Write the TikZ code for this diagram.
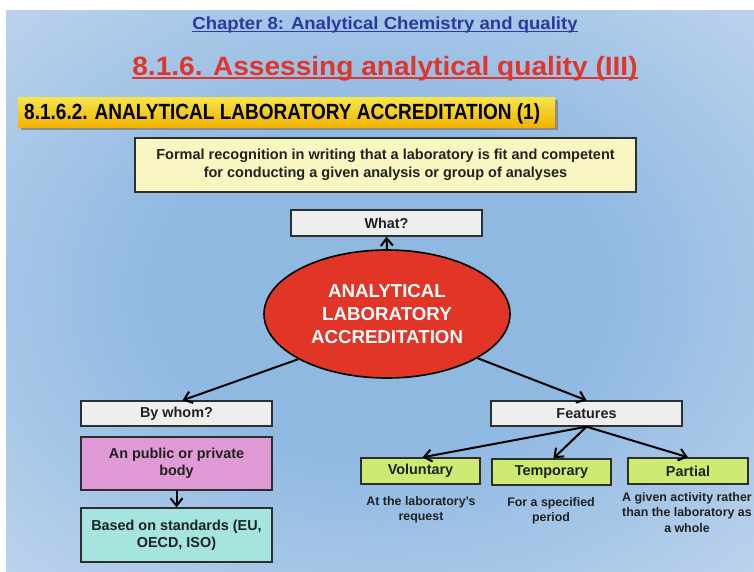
\documentclass[tikz,border=0pt]{standalone}
\usepackage{fontspec}
\setmainfont{Liberation Sans}
\newfontfamily\narrowf[FakeStretch=0.865]{Liberation Sans}
\newfontfamily\widef[FakeStretch=1.06]{Liberation Sans}
\usetikzlibrary{arrows.meta,calc,shapes.geometric,shadows}
\definecolor{bgblue}{HTML}{90B9E2}
\definecolor{bgmid}{HTML}{B4CEEA}
\definecolor{bglight}{HTML}{D8E0F2}
\definecolor{bgpink}{HTML}{F7E6F6}
\definecolor{chapblue}{HTML}{2B3A9C}
\definecolor{titred}{HTML}{E0352A}
\definecolor{bantop}{HTML}{F7E64A}
\definecolor{banbot}{HTML}{F1B300}
\definecolor{defyel}{HTML}{FAF6C2}
\definecolor{boxgray}{HTML}{EEEEEE}
\definecolor{ellred}{HTML}{E03527}
\definecolor{pinkbox}{HTML}{E09AD6}
\definecolor{cyanbox}{HTML}{A6E5DF}
\definecolor{greenbox}{HTML}{CDEA72}
\definecolor{edge}{HTML}{2E2E2E}
\pgfdeclareradialshading{bgshade}{\pgfpoint{0bp}{0bp}}{%
  color(0bp)=(bgblue); color(15bp)=(bgblue); color(32bp)=(bgmid); color(47bp)=(bglight); color(68bp)=(bgpink)}
\tikzset{
  box/.style={draw=edge, line width=1.4pt, inner sep=2pt, align=center,
    font=\bfseries\fontsize{14.4}{17}\selectfont, text=black!87},
  lbl/.style={box, fill=boxgray},
  sub/.style={box, fill=greenbox, minimum width=119pt, minimum height=26pt},
  captxt/.style={align=center, font=\bfseries\fontsize{12.4}{15.5}\selectfont, text=black!87, inner sep=0pt},
  arr/.style={line width=2pt, black, -{Straight Barb[length=7.5pt,width=12pt,line width=2pt]}},
}
\begin{document}
\begin{tikzpicture}[x=1pt,y=-1pt]
\useasboundingbox (0,0) rectangle (754,571);
\fill[white] (0,0) rectangle (754,571);
\shade[shading=bgshade] (6,10) rectangle (754,571);
% chapter title
\node[inner sep=0pt, anchor=base, text=chapblue, font=\widef\bfseries\fontsize{17.5}{20}\selectfont] (chap) at (385,29) {Chapter 8: Analytical Chemistry and quality};
\draw[chapblue, line width=1.2pt] ([yshift=-2.3pt]chap.base west) -- ([yshift=-2.3pt]chap.base east);
% main title
\node[inner sep=0pt, anchor=base, text=titred, font=\widef\bfseries\fontsize{26.5}{30}\selectfont] (tit) at (385,75) {8.1.6. Assessing analytical quality (III)};
\draw[titred, line width=2pt] ([yshift=-3.3pt]tit.base west) -- ([yshift=-3.3pt]tit.base east);
% banner
\fill[black!45] (21,100) rectangle (558,130);
\shade[top color=bantop, bottom color=banbot] (18,97) rectangle (555,127);
\node[inner sep=0pt, anchor=base west, font=\narrowf\bfseries\fontsize{22}{24}\selectfont] (ban) at (24,119.5) {8.1.6.2. ANALYTICAL LABORATORY ACCREDITATION (1)};
% definition
\node[box, fill=defyel, minimum width=501pt, minimum height=54pt, font=\bfseries\fontsize{14.5}{18}\selectfont] (def) at (385.5,165) {Formal recognition in writing that a laboratory is fit and competent\\for conducting a given analysis or group of analyses};
% what
\node[lbl, minimum width=191pt, minimum height=26pt] (what) at (386.5,223) {What?};
% ellipse
\node[ellipse, draw=black, line width=1.6pt, fill=ellred, minimum width=246pt, minimum height=128pt, inner sep=0pt, align=center, text=white, font=\bfseries\fontsize{18.7}{23}\selectfont] (ell) at (387,314) {ANALYTICAL\\LABORATORY\\ACCREDITATION};
% left branch
\node[lbl, minimum width=191pt, minimum height=25pt] (who) at (176.5,413.5) {By whom?};
\node[box, fill=pinkbox, minimum width=191pt, minimum height=53pt] (pub) at (176.5,463.5) {An public or private\\body};
\node[box, fill=cyanbox, minimum width=191pt, minimum height=54pt] (std) at (176.5,535) {Based on standards (EU,\\OECD, ISO)};
% right branch
\node[lbl, minimum width=191pt, minimum height=25pt] (feat) at (586.5,413.5) {Features};
\node[sub] (vol) at (420.5,471) {Voluntary};
\node[sub] (tmp) at (551.5,472) {Temporary};
\node[sub, minimum width=120pt] (par) at (688,471) {Partial};
\node[captxt] (cvol) at (421,510) {At the laboratory's\\request};
\node[captxt] (ctmp) at (551,511) {For a specified\\period};
\node[captxt] (cpar) at (687,512.5) {A given activity rather\\than the laboratory as\\a whole};
% connectors
\draw[arr] (ell.north) -- (what.south);
\draw[arr] (ell.207) -- ($(who.north)+(6,0)$);
\draw[arr] (ell.334) -- (feat.north);
\draw[arr] (pub.south) -- (std.north);
\draw[arr] (feat.south) -- ($(vol.north)+(2,0)$);
\draw[arr] (feat.south) -- ($(tmp.north)+(2,0)$);
\draw[arr] (feat.south) -- (par.north);
\end{tikzpicture}
\end{document}
